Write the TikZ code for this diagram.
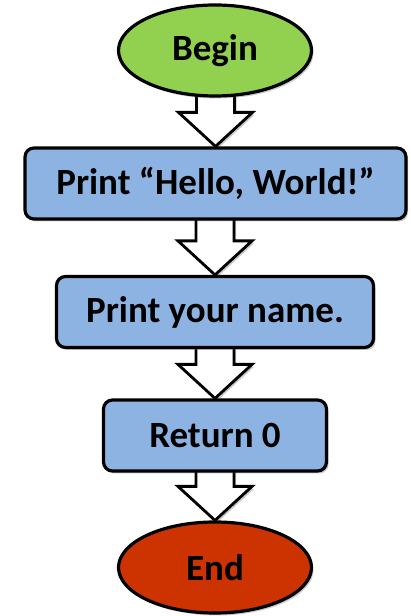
\documentclass[tikz,border=0pt]{standalone}
\usepackage{fontspec}
\setmainfont{Carlito}
\usetikzlibrary{shapes.geometric,shadows,calc,backgrounds}
\definecolor{begingreen}{HTML}{92D050}
\definecolor{boxblue}{HTML}{8DB3E2}
\definecolor{endred}{HTML}{CC3300}
\tikzset{
  myshadow/.style={drop shadow={shadow xshift=2pt,shadow yshift=-2.5pt,opacity=0.35,fill=black!60}},
  terminal/.style={ellipse,draw=black,line width=3.2pt,inner sep=0pt,
    minimum width=193pt,minimum height=91pt,font=\bfseries\fontsize{37}{42}\selectfont,myshadow},
  stepbox/.style={rectangle,rounded corners=9pt,draw=black,line width=3.2pt,fill=boxblue,
    inner sep=0pt,minimum height=71pt,font=\bfseries\fontsize{37}{42}\selectfont,myshadow},
  blockarrow/.style={draw=black,fill=white,line width=2.8pt,line join=miter,myshadow}
}
\newcommand{\flowarrow}[2]{%
  \draw[blockarrow] let \p1=(#1.south), \p2=(#2.north) in
    (\x2-19pt,\y1+6pt) -- (\x2-19pt,\y2+34pt) -- (\x2-37pt,\y2+34pt) -- (\x2,\y2)
    -- (\x2+37pt,\y2+34pt) -- (\x2+19pt,\y2+34pt) -- (\x2+19pt,\y1+6pt) -- cycle;}
\begin{document}
\begin{tikzpicture}[x=1pt,y=1pt]
\useasboundingbox (0,0) rectangle (410,616);
\node[terminal,fill=begingreen] (begin) at (215,565.5) {Begin};
\node[stepbox,minimum width=381pt] (hello) at (215.5,432.5) {Print “Hello, World!”};
\node[stepbox,minimum width=317pt] (name) at (215,304) {Print your name.};
\node[stepbox,minimum width=223pt] (ret) at (215,180.5) {Return 0};
\node[terminal,fill=endred] (end) at (215,48.5) {End};
\begin{scope}[on background layer]
\flowarrow{begin}{hello}
\flowarrow{hello}{name}
\flowarrow{name}{ret}
\flowarrow{ret}{end}
\end{scope}
\end{tikzpicture}
\end{document}
